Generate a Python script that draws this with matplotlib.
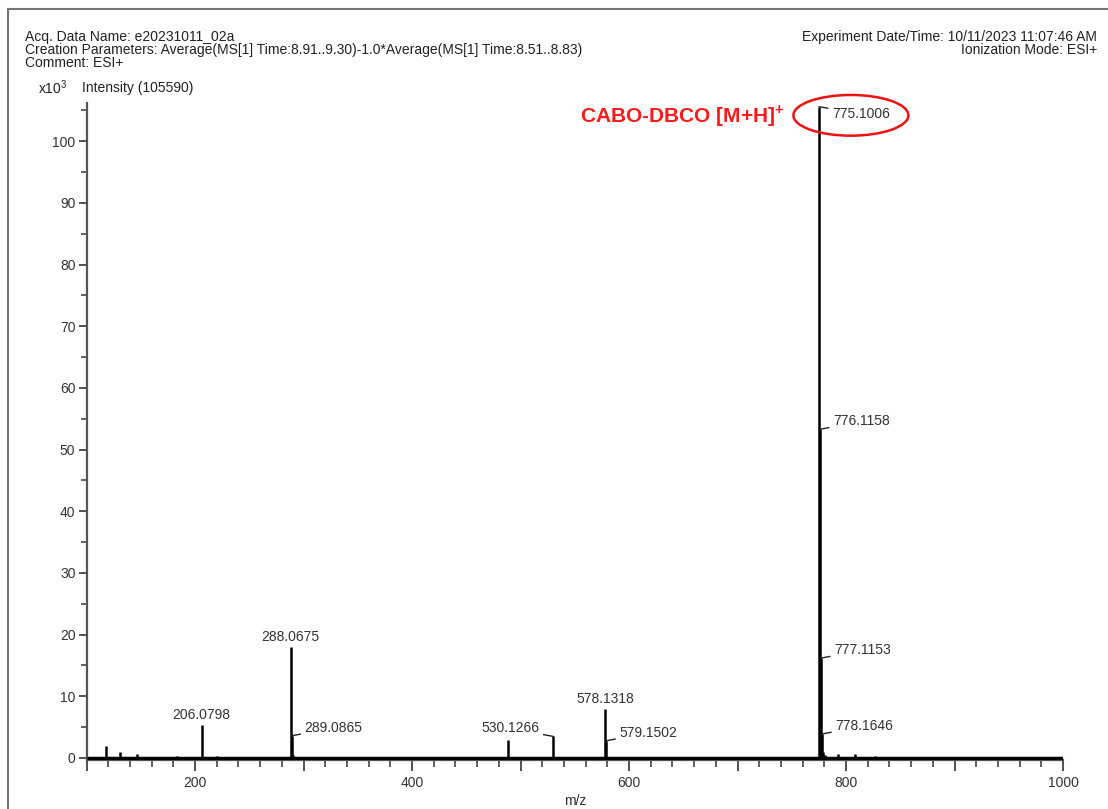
import matplotlib.pyplot as plt
from matplotlib.patches import Ellipse
from matplotlib.lines import Line2D
from matplotlib.ticker import MultipleLocator

plt.rcParams['font.family'] = ['Liberation Sans', 'DejaVu Sans']
plt.rcParams['mathtext.fontset'] = 'custom'
plt.rcParams['mathtext.rm'] = 'Liberation Sans'
plt.rcParams['mathtext.bf'] = 'Liberation Sans:bold'

# peak list: m/z and intensity (x10^3)
mz = [117.7, 130.9, 146.8, 183.0, 206.08, 220.0, 288.07, 289.09, 290.1,
      488.5, 530.13, 578.13, 579.15, 775.10, 776.12, 777.12, 778.16,
      779.2, 780.2, 792.6, 808.0, 826.5, 865.0]
intensity = [1.9, 1.0, 0.7, 0.3, 5.3, 0.3, 18.0, 3.6, 0.5,
             2.9, 3.5, 8.0, 2.8, 105.59, 53.3, 16.2, 3.9,
             1.0, 0.5, 0.6, 0.6, 0.4, 0.1]

# labelled peaks: (m/z, intensity, text, placement)
labels = [
    (206.08, 5.3, '206.0798', 'top'),
    (288.07, 18.0, '288.0675', 'top'),
    (289.09, 3.6, '289.0865', 'right'),
    (530.13, 3.5, '530.1266', 'left'),
    (578.13, 8.0, '578.1318', 'top'),
    (579.15, 2.8, '579.1502', 'right'),
    (775.10, 105.59, '775.1006', 'right_down'),
    (776.12, 53.3, '776.1158', 'right'),
    (777.12, 16.2, '777.1153', 'right'),
    (778.16, 3.9, '778.1646', 'right'),
]

x_ticks = [100, 200, 300, 400, 500, 600, 700, 800, 900, 1000]
x_ticklabels = ['', '200', '', '400', '', '600', '', '800', '', '1000']

fig = plt.figure(figsize=(11.08, 8.09), dpi=100)
ax = fig.add_axes([0.0781, 0.0600, 0.9594 - 0.0781, 0.8727 - 0.0600])

ax.plot([100, 1000], [0, 0], color='black', lw=2.5, solid_capstyle='butt', zorder=3)
ax.vlines(mz, 0, intensity, color='black', lw=1.8, zorder=3)

tc = '#333333'
fs = 10
line_kw = dict(arrowstyle='-', color='#222222', lw=1.0, shrinkA=1, shrinkB=0)
for x, y, txt, pos in labels:
    if pos == 'top':
        ax.annotate(txt, (x, y), xytext=(0, 3), textcoords='offset pixels',
                    ha='center', va='bottom', fontsize=fs, color=tc)
    elif pos == 'right':
        ax.annotate(txt, (x, y), xytext=(13, 8), textcoords='offset pixels',
                    ha='left', va='center', fontsize=fs, color=tc, arrowprops=line_kw)
    elif pos == 'left':
        ax.annotate(txt, (x, y), xytext=(-14, 8), textcoords='offset pixels',
                    ha='right', va='center', fontsize=fs, color=tc, arrowprops=line_kw)
    else:
        ax.annotate(txt, (x, y), xytext=(13, -7), textcoords='offset pixels',
                    ha='left', va='center', fontsize=fs, color=tc, arrowprops=line_kw)

ax.set_xlim(100, 1000)
ax.set_ylim(-0.4, 106.2)
for s in ['top', 'right']:
    ax.spines[s].set_visible(False)
for s in ['left', 'bottom']:
    ax.spines[s].set_color('#555555')
    ax.spines[s].set_linewidth(1.6)

ax.set_xticks(x_ticks)
ax.set_xticklabels(x_ticklabels)
ax.xaxis.set_minor_locator(MultipleLocator(20))
ax.yaxis.set_major_locator(MultipleLocator(10))
ax.yaxis.set_minor_locator(MultipleLocator(5))
ax.tick_params(axis='x', which='major', length=8, width=1.3, color='#444444',
               labelsize=fs, labelcolor=tc, pad=3)
ax.tick_params(axis='x', which='minor', length=5, width=1.2, color='#444444')
ax.tick_params(axis='y', which='major', length=6, width=1.3, color='#444444',
               labelsize=fs, labelcolor=tc, pad=2)
ax.tick_params(axis='y', which='minor', length=4, width=1.2, color='#444444')
ax.set_xlabel('m/z', fontsize=fs, color=tc, labelpad=3)

# red annotation for the molecular ion
ax.add_patch(Ellipse((804.5, 104.2), 106, 6.6, fill=False, edgecolor='#ee1111',
                     lw=1.8, clip_on=False, zorder=4))
fig.text(580 / 1108, 1 - 116 / 809, r'CABO-DBCO [M+H]$^{\mathbf{+}}$', color='#ff1a1a',
         fontsize=15, fontweight='bold', ha='left', va='center')

# header
hc = '#222222'
fig.text(25 / 1108, 1 - 37 / 809, 'Acq. Data Name: e20231011_02a', fontsize=fs, color=hc, va='center')
fig.text(25 / 1108, 1 - 50 / 809,
         'Creation Parameters: Average(MS[1] Time:8.91..9.30)-1.0*Average(MS[1] Time:8.51..8.83)',
         fontsize=fs, color=hc, va='center')
fig.text(25 / 1108, 1 - 63 / 809, 'Comment: ESI+', fontsize=fs, color=hc, va='center')
fig.text(1097 / 1108, 1 - 37 / 809, 'Experiment Date/Time: 10/11/2023 11:07:46 AM',
         fontsize=fs, color=hc, va='center', ha='right')
fig.text(1097 / 1108, 1 - 50 / 809, 'Ionization Mode: ESI+',
         fontsize=fs, color=hc, va='center', ha='right')
fig.text(38 / 1108, 1 - 88 / 809, r'x10$^{3}$', fontsize=fs, color=hc, va='center')
fig.text(82 / 1108, 1 - 88 / 809, 'Intensity (105590)', fontsize=fs, color=hc, va='center')

# page frame (left and top edges)
fig.add_artist(Line2D([8 / 1108, 8 / 1108], [0, 1 - 9 / 809], transform=fig.transFigure,
                      color='#777777', lw=1.5))
fig.add_artist(Line2D([8 / 1108, 1], [1 - 9 / 809, 1 - 9 / 809], transform=fig.transFigure,
                      color='#777777', lw=1.5))

fig.savefig('out.png', dpi=100)
